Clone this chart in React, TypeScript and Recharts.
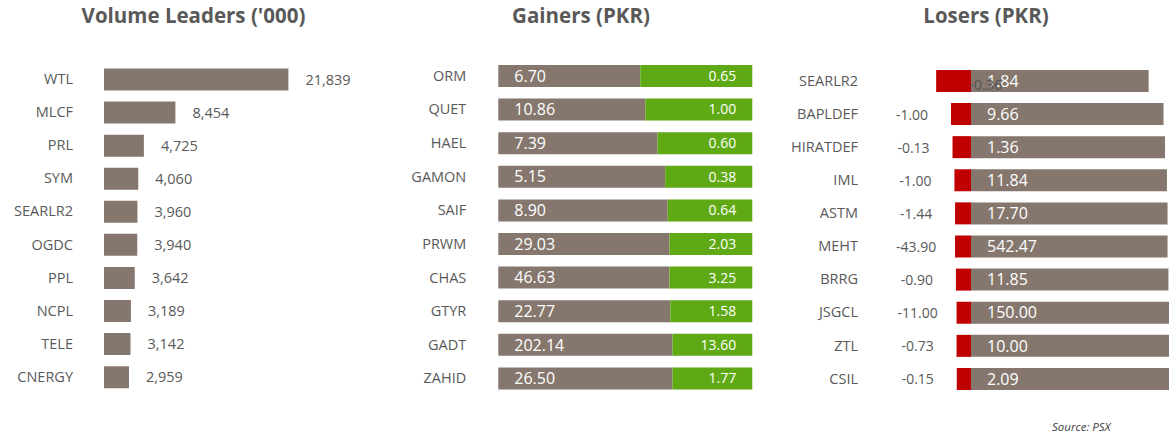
import { BarChart, Bar, XAxis, YAxis, LabelList } from "recharts";

const FONT = "'Open Sans', sans-serif";
const TEXT = "#595959";
const BROWN = "#85776D";
const GREEN = "#5FAA14";
const RED = "#C00000";

// Volume leaders ('000 shares)
const volumeSymbols = ["WTL", "MLCF", "PRL", "SYM", "SEARLR2", "OGDC", "PPL", "NCPL", "TELE", "CNERGY"];
const volumeValues = [21839, 8454, 4725, 4060, 3960, 3940, 3642, 3189, 3142, 2959];

// Gainers: close, change, and how the row bar is split (% of row)
const gainerSymbols = ["ORM", "QUET", "HAEL", "GAMON", "SAIF", "PRWM", "CHAS", "GTYR", "GADT", "ZAHID"];
const gainerPrice = [6.7, 10.86, 7.39, 5.15, 8.9, 29.03, 46.63, 22.77, 202.14, 26.5];
const gainerChange = [0.65, 1.0, 0.6, 0.38, 0.64, 2.03, 3.25, 1.58, 13.6, 1.77];
const gainerBase = [55.9, 57.9, 62.7, 65.7, 66.7, 67.4, 67.4, 67.7, 68.6, 68.6];
const gainerMove = [44.1, 42.1, 37.3, 34.3, 33.3, 32.6, 32.6, 32.3, 31.4, 31.4];

// Losers: close, change, % move and remaining share
const loserSymbols = ["SEARLR2", "BAPLDEF", "HIRATDEF", "IML", "ASTM", "MEHT", "BRRG", "JSGCL", "ZTL", "CSIL"];
const loserPrice = [1.84, 9.66, 1.36, 11.84, 17.7, 542.47, 11.85, 150.0, 10.0, 2.09];
const loserChange = [-0.36, -1.0, -0.13, -1.0, -1.44, -43.9, -0.9, -11.0, -0.73, -0.15];
const loserMove = [-16.4, -9.4, -8.7, -7.8, -7.5, -7.5, -7.1, -6.8, -6.8, -6.7];
const loserRest = [83.6, 90.6, 91.3, 92.2, 92.5, 92.5, 92.9, 93.2, 93.2, 93.3];

const volumeData = volumeSymbols.map((name, i) => ({ name, value: volumeValues[i] }));
const gainerData = gainerSymbols.map((name, i) => ({
  name,
  base: gainerBase[i],
  move: gainerMove[i],
  price: gainerPrice[i],
  change: gainerChange[i],
}));
const loserData = loserSymbols.map((name, i) => ({
  name,
  move: loserMove[i],
  rest: loserRest[i],
  price: loserPrice[i],
  change: loserChange[i],
}));

const fmt2 = (v: any) => Number(v).toFixed(2);

const tickStyle = { fill: TEXT, fontSize: 14.5, fontFamily: FONT };

function LoserChangeLabel(props: any) {
  const vb = props.viewBox ?? props;
  const x = Number(vb.x ?? props.x);
  const y = Number(vb.y ?? props.y);
  const w = Number(vb.width ?? props.width);
  const h = Number(vb.height ?? props.height);
  const left = Math.min(x, x + w);
  const right = Math.max(x, x + w);
  const text = fmt2(props.value);
  // first row label got pushed onto the bar in the source
  if (props.index === 0) {
    return (
      <text x={right - 2} y={y + h / 2 + 4} fill="#555555" fontSize={14.5} fontFamily={FONT}
        textAnchor="start" dominantBaseline="central">
        {text}
      </text>
    );
  }
  return (
    <text x={left - 39} y={y + h / 2} fill={TEXT} fontSize={14} fontFamily={FONT}
      textAnchor="middle" dominantBaseline="central">
      {text}
    </text>
  );
}

function Title({ text, center }: { text: string; center: number }) {
  return (
    <div
      style={{
        position: "absolute",
        top: 4.8,
        left: center - 200,
        width: 400,
        textAlign: "center",
        fontFamily: FONT,
        fontWeight: 700,
        fontSize: 20.5,
        lineHeight: 1,
        color: TEXT,
      }}
    >
      {text}
    </div>
  );
}

export default function App() {
  return (
    <div
      style={{
        position: "fixed",
        left: 0,
        top: 0,
        width: 1169,
        height: 441,
        overflow: "hidden",
        background: "#fff",
      }}
    >
      <Title text="Volume Leaders ('000)" center={193.5} />
      <Title text="Gainers (PKR)" center={581} />
      <Title text="Losers (PKR)" center={986} />

      <div style={{ position: "absolute", left: 0, top: 0 }}>
        <BarChart
          width={400}
          height={441}
          layout="vertical"
          data={volumeData}
          margin={{ top: 62.5, bottom: 47.8, left: 0, right: 42.7 }}
        >
          <XAxis type="number" hide domain={[0, 30000]} />
          <YAxis
            type="category"
            dataKey="name"
            width={104}
            axisLine={false}
            tickLine={false}
            tickSize={0}
            tickMargin={31}
            tick={tickStyle}
            interval={0}
          />
          <Bar dataKey="value" fill={BROWN} barSize={22} isAnimationActive={false}>
            <LabelList
              dataKey="value"
              position="right"
              offset={17}
              fill={TEXT}
              fontSize={14.5}
              fontFamily={FONT}
              formatter={(v: any) => Number(v).toLocaleString("en-US")}
            />
          </Bar>
        </BarChart>
      </div>

      <div style={{ position: "absolute", left: 400, top: 0 }}>
        <BarChart
          width={380}
          height={441}
          layout="vertical"
          data={gainerData}
          margin={{ top: 58.9, bottom: 45.9, left: 0, right: 27.7 }}
        >
          <XAxis type="number" hide domain={[0, 100]} />
          <YAxis
            type="category"
            dataKey="name"
            width={98.3}
            axisLine={false}
            tickLine={false}
            tickSize={0}
            tickMargin={32}
            tick={tickStyle}
            interval={0}
          />
          <Bar dataKey="base" stackId="g" fill={BROWN} barSize={22} isAnimationActive={false}>
            <LabelList
              dataKey="price"
              position="insideLeft"
              offset={16}
              fill="#ffffff"
              fontSize={16}
              fontFamily={FONT}
              formatter={fmt2}
            />
          </Bar>
          <Bar dataKey="move" stackId="g" fill={GREEN} barSize={22} isAnimationActive={false}>
            <LabelList
              dataKey="change"
              position="insideRight"
              offset={16}
              fill="#ffffff"
              fontSize={14}
              fontFamily={FONT}
              formatter={fmt2}
            />
          </Bar>
        </BarChart>
      </div>

      <div style={{ position: "absolute", left: 780, top: 0 }}>
        <BarChart
          width={403.5}
          height={441}
          layout="vertical"
          data={loserData}
          stackOffset="sign"
          margin={{ top: 63.9, bottom: 45.9, left: 0, right: 0 }}
        >
          <XAxis type="number" hide domain={[-20, 100]} />
          <YAxis
            type="category"
            dataKey="name"
            width={148.5}
            axisLine={false}
            tickLine={false}
            tickSize={0}
            tickMargin={70.5}
            tick={tickStyle}
            interval={0}
          />
          <Bar dataKey="rest" stackId="l" fill={BROWN} barSize={22} isAnimationActive={false}>
            <LabelList
              dataKey="price"
              position="insideLeft"
              offset={16}
              fill="#ffffff"
              fontSize={16}
              fontFamily={FONT}
              formatter={fmt2}
            />
          </Bar>
          <Bar dataKey="move" stackId="l" fill={RED} barSize={22} isAnimationActive={false}>
            <LabelList dataKey="change" content={<LoserChangeLabel />} />
          </Bar>
        </BarChart>
      </div>

      <div
        style={{
          position: "absolute",
          left: 1052,
          top: 421.3,
          fontFamily: FONT,
          fontStyle: "italic",
          fontSize: 11.5,
          lineHeight: 1,
          color: "#404040",
        }}
      >
        Source: PSX
      </div>
    </div>
  );
}
